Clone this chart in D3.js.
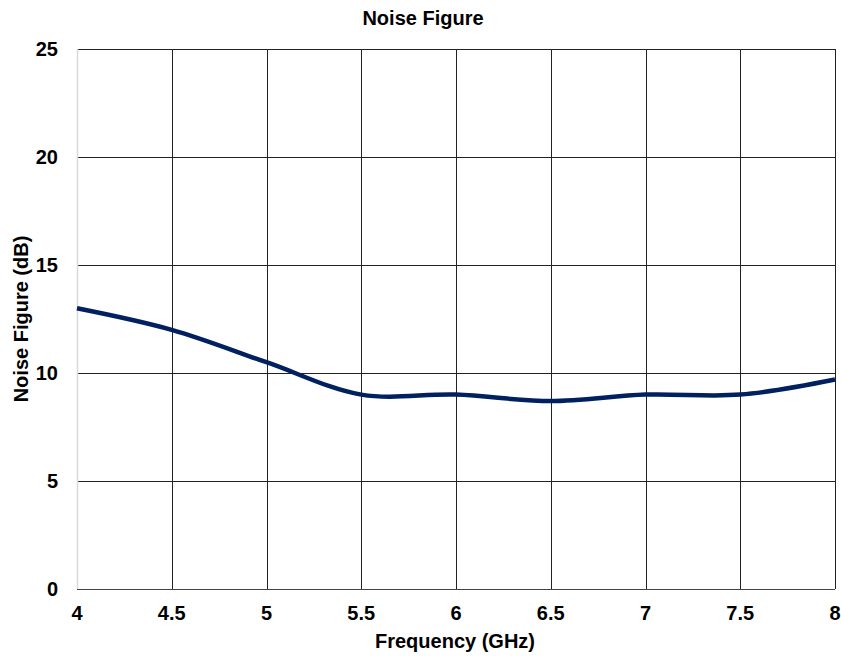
<!DOCTYPE html>
<html><head><meta charset="utf-8">
<script src="https://cdn.jsdelivr.net/npm/d3@7"></script>
<style>body{margin:0;background:#fff}svg{display:block}text{font-family:"Liberation Sans",Arial,sans-serif;font-weight:bold;fill:#000}</style>
</head><body>
<script>
const freq = [4, 4.5, 5, 5.5, 6, 6.5, 7, 7.5, 8];
const noiseFigure = [13.0, 12.0, 10.5, 9.0, 9.0, 8.7, 9.0, 9.0, 9.7];
const xTicks = [4, 4.5, 5, 5.5, 6, 6.5, 7, 7.5, 8];
const yTicks = [0, 5, 10, 15, 20, 25];

const W = 841, H = 656;
const m = {left: 77, right: 6, top: 49, bottom: 67};
const svg = d3.select("body").append("svg").attr("width", W).attr("height", H);
const x = d3.scaleLinear().domain([4, 8]).range([m.left, W - m.right]);
const y = d3.scaleLinear().domain([0, 25]).range([H - m.bottom, m.top]);

const g = svg.append("g");
// grid
g.selectAll(".vg").data(xTicks.slice(1)).join("line")
  .attr("x1", d => Math.round(x(d)) + 0.5).attr("x2", d => Math.round(x(d)) + 0.5)
  .attr("y1", y(25)).attr("y2", y(0)).attr("stroke", "#222").attr("stroke-width", 1);
g.selectAll(".hg").data(yTicks.slice(1)).join("line")
  .attr("x1", x(4)).attr("x2", x(8))
  .attr("y1", d => Math.round(y(d)) + 0.5).attr("y2", d => Math.round(y(d)) + 0.5)
  .attr("stroke", "#222").attr("stroke-width", 1);
// left axis line (light)
g.append("line").attr("x1", x(4) + 0.5).attr("x2", x(4) + 0.5).attr("y1", y(25)).attr("y2", y(0))
  .attr("stroke", "#d9d9d9").attr("stroke-width", 1.5);
// bottom axis line
g.append("line").attr("x1", x(4)).attr("x2", x(8)).attr("y1", Math.round(y(0)) + 0.5).attr("y2", Math.round(y(0)) + 0.5)
  .attr("stroke", "#444").attr("stroke-width", 1.2);

// tick labels
svg.selectAll(".xt").data(xTicks).join("text")
  .attr("x", d => x(d)).attr("y", y(0) + 31).attr("text-anchor", "middle")
  .attr("font-size", 20).text(d => d);
svg.selectAll(".yt").data(yTicks).join("text")
  .attr("x", x(4) - 19).attr("y", d => y(d) + 7).attr("text-anchor", "end")
  .attr("font-size", 20).text(d => d);

// line
const line = d3.line().x((d, i) => x(freq[i])).y(d => y(d)).curve(d3.curveCatmullRom.alpha(0.5));
svg.append("path").datum(noiseFigure).attr("d", line)
  .attr("fill", "none").attr("stroke", "#002060").attr("stroke-width", 4.5)
  .attr("stroke-linejoin", "round");

// titles
svg.append("text").attr("x", 423).attr("y", 25).attr("text-anchor", "middle").attr("font-size", 20).text("Noise Figure");
svg.append("text").attr("x", 455).attr("y", 648).attr("text-anchor", "middle").attr("font-size", 20).text("Frequency (GHz)");
svg.append("text").attr("transform", `translate(28,319) rotate(-90)`)
  .attr("text-anchor", "middle").attr("font-size", 20).text("Noise Figure (dB)");
</script>
</body></html>
